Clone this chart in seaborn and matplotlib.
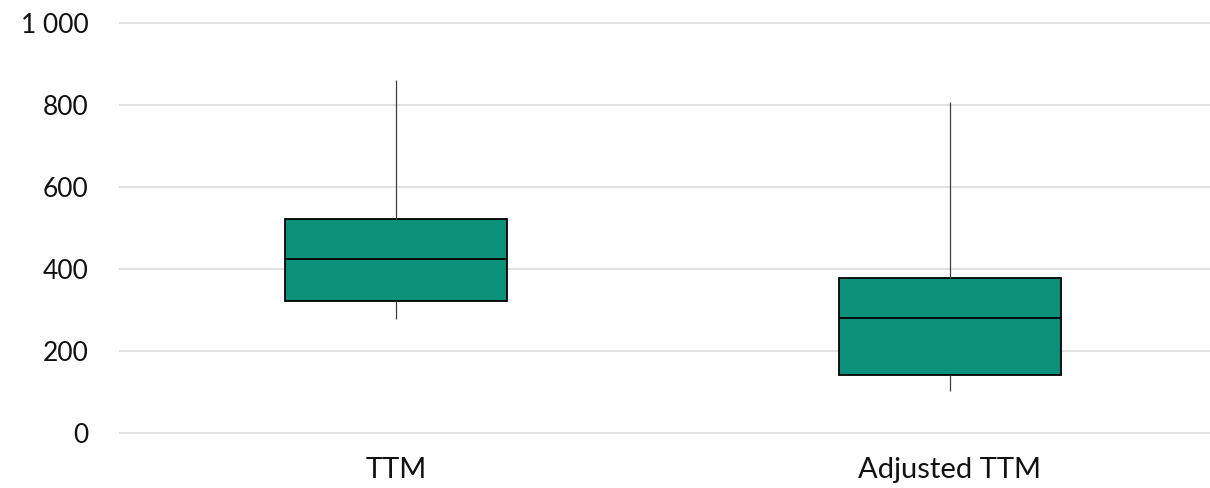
import pandas as pd
import seaborn as sns
import matplotlib.pyplot as plt
from matplotlib.ticker import FuncFormatter

# five-number summaries (min, q1, median, q3, max)
categorias = ["TTM", "Adjusted TTM"]
ttm = [279, 323, 425, 523, 861]
adjusted_ttm = [103, 142, 281, 379, 807]
y_ticks = [0, 200, 400, 600, 800, 1000]

df = pd.DataFrame({
    "categoria": [categorias[0]] * len(ttm) + [categorias[1]] * len(adjusted_ttm),
    "valor": ttm + adjusted_ttm,
})

sns.set_style("white")
plt.rcParams['font.family'] = ['Lato', 'DejaVu Sans']

fig = plt.figure(figsize=(12.1, 4.88), dpi=100)
ax = fig.add_axes([119 / 1210, 0.1085, 1108 / 1210, 0.8486])

sns.boxplot(data=df, x="categoria", y="valor", order=categorias, ax=ax,
            whis=(0, 100), width=0.4, color="#0B917A", saturation=1,
            showcaps=False, showfliers=False,
            boxprops=dict(edgecolor="black", linewidth=1.3),
            medianprops=dict(color="black", linewidth=1.3),
            whiskerprops=dict(color="#404040", linewidth=0.9))

ax.set_ylim(-5, 1005)
ax.set_xlim(-0.5, 1.5)
ax.set_yticks(y_ticks)
ax.yaxis.set_major_formatter(FuncFormatter(lambda v, p: f"{int(v):,}".replace(",", " ")))
ax.grid(axis="y", color="#d9d9d9", linewidth=1.1)
ax.set_axisbelow(True)
for s in ax.spines.values():
    s.set_visible(False)

ax.tick_params(axis="y", length=0, pad=22, labelsize=19, labelcolor="#111111")
ax.tick_params(axis="x", length=0, pad=16, labelsize=21, labelcolor="#111111")
ax.set_xlabel("")
ax.set_ylabel("")

plt.savefig("out.png", dpi=100)
plt.close()
